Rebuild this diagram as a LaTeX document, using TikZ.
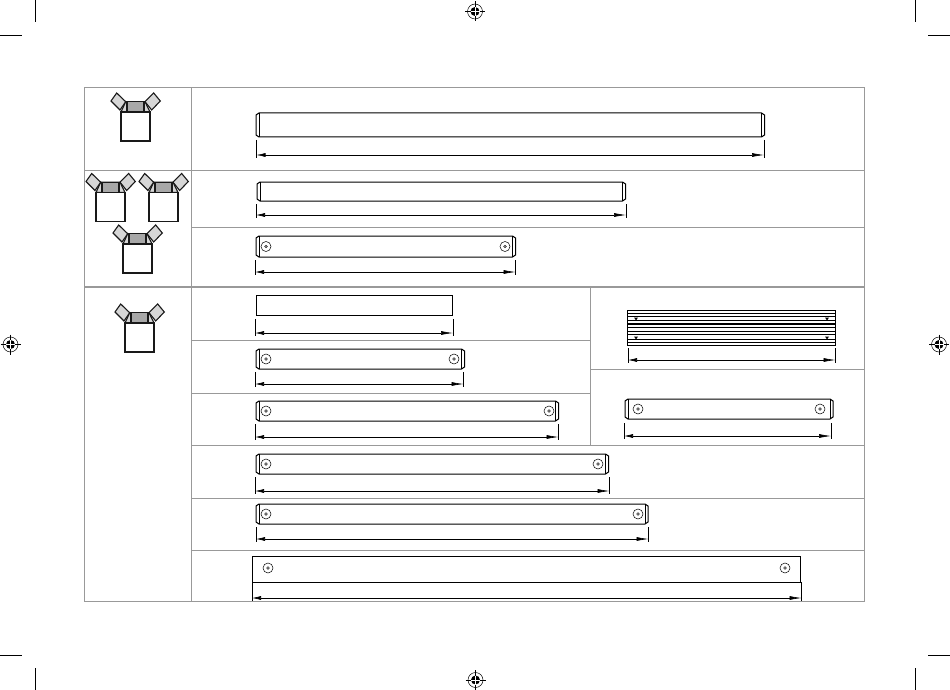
\documentclass[tikz,border=0pt]{standalone}
\usepackage{amsmath}
\usetikzlibrary{positioning, arrows.meta}

\definecolor{gridgray}{gray}{0.6}
\definecolor{flaplight}{gray}{0.84}
\definecolor{flapdark}{gray}{0.66}
\tikzset{
    grid/.style={draw=gridgray, line width=1pt},
    gridthick/.style={draw=gridgray, line width=1.8pt},
    barline/.style={draw=black, line width=1pt},
    endline/.style={draw=black, line width=0.4pt},
    extline/.style={draw=black, line width=0.7pt},
    dimline/.style={draw=black, line width=0.6pt, {Latex[length=9pt,width=4pt]}-{Latex[length=12pt,width=4pt]}},
    boxline/.style={draw=black!90, line width=1.6pt},
    flapline/.style={draw=black!90, line width=1.1pt},
    hole/.style={circle, draw=black, line width=0.5pt, minimum size=10pt, inner sep=0pt},
    holedot/.style={circle, draw=black, line width=0.3pt, fill=gray, minimum size=3pt, inner sep=0pt},
    crop/.style={draw=black, line width=0.7pt},
}

% bar with cut ends: x1, x2, top, bottom
\newcommand{\cutbar}[4]{
    \draw [barline] (#1+3, #3) -- (#2-3, #3) -- (#2, #3+2) -- (#2, #4-2) -- (#2-3, #4) -- (#1+3, #4) -- (#1, #4-2) -- (#1, #3+2) -- cycle;
    \draw [endline] (#1+3, #3) -- (#1+3, #4);
    \draw [endline] (#2-3, #3) -- (#2-3, #4);
}
% screw hole: name, x, y
\newcommand{\screw}[3]{
    \node [hole] (#1) at (#2, #3) {};
    \node [holedot] (#1c) at (#2, #3) {};
}
% dimension: name, x1, x2, y of arrow, y of start of the extension lines
\newcommand{\dimbar}[5]{
    \coordinate (#1a) at (#2, #5);
    \coordinate (#1b) at (#3, #5);
    \coordinate (#1l) at (#2, #4);
    \coordinate (#1r) at (#3, #4);
    \draw [extline] (#1a) -- ([yshift=-3pt]#1l);
    \draw [extline] (#1b) -- ([yshift=-3pt]#1r);
    \draw [dimline] (#1l) -- (#1r);
}
% open box icon: x, y of the top left corner of the box
\newcommand{\boxicon}[2]{
    \begin{scope}[shift={(#1, #2)}]
        \draw [flapline, fill=flaplight] (4.7, -10.3) -- (0, 0) -- (29, 0) -- (24, -10.3) -- cycle;
        \draw [flapline, fill=flapdark] (6, -10.3) rectangle (23, 0);
        \draw [boxline, fill=white] (0, 0) rectangle (29, 29);
        \draw [flapline, fill=flaplight] (-4.3, -19) -- (4.7, -10.3) -- (-1, -2) -- (-10, -11) -- cycle;
        \draw [flapline, fill=flaplight] (32.7, -19) -- (39.3, -11) -- (30.7, -2) -- (24, -10.3) -- cycle;
    \end{scope}
}
% registration mark: x, y
\newcommand{\regmark}[2]{
    \begin{scope}[shift={(#1, #2)}]
        \draw [crop, line width=0.5pt] (0, 0) circle (7.5);
        \fill [black] (0, 0) circle (4.5);
        \draw [crop] (-10, 0) -- (10, 0);
        \draw [crop] (0, -10) -- (0, 10);
        \draw [white, line width=0.4pt] (-4.5, 0) -- (4.5, 0);
        \draw [white, line width=0.4pt] (0, -4.5) -- (0, 4.5);
    \end{scope}
}

\begin{document}
\begin{tikzpicture}[x=1pt, y=-1pt]
    \useasboundingbox (0, 0) rectangle (950, 690);

    % table
    \draw [grid] (84, 88) rectangle (864, 601);
    \draw [grid] (191, 88) -- (191, 601);
    \draw [gridthick] (84, 170.5) -- (864, 170.5);
    \draw [gridthick] (84, 287) -- (864, 287);
    \draw [grid] (191, 227) -- (864, 227);
    \draw [grid] (191, 340) -- (590, 340);
    \draw [grid] (191, 393) -- (590, 393);
    \draw [grid] (590, 369) -- (864, 369);
    \draw [grid] (590, 287) -- (590, 445);
    \draw [grid] (191, 445) -- (864, 445);
    \draw [grid] (191, 498) -- (864, 498);
    \draw [grid] (191, 550) -- (864, 550);

    % icons
    \boxicon{121}{112}
    \boxicon{96}{192.5}
    \boxicon{149}{192.5}
    \boxicon{123}{244}
    \boxicon{125}{323}

    % bars
    \cutbar{256}{764.5}{113}{137}
    \dimbar{one}{256.5}{764}{155}{140}
    \cutbar{257}{625.5}{182}{201}
    \dimbar{two}{256}{626}{215}{204}
    \cutbar{256}{515.5}{236}{257}
    \screw{twoa}{266}{246.5}
    \screw{twob}{505}{246.5}
    \dimbar{three}{255}{515.5}{272}{260}

    \draw [barline] (256, 295) rectangle (452.7, 315);
    \dimbar{four}{255}{453}{333}{319}
    \cutbar{256}{464.5}{349}{369}
    \screw{fivea}{266}{359}
    \screw{fiveb}{454}{359}
    \dimbar{five}{255}{463.5}{384}{372}
    \cutbar{256}{558.5}{401}{421}
    \screw{sixa}{266}{411}
    \screw{sixb}{549}{411}
    \dimbar{six}{255}{558.5}{437}{424}
    \cutbar{256}{608.5}{454}{474}
    \screw{sevena}{266}{464}
    \screw{sevenb}{598}{464}
    \dimbar{seven}{255}{609.5}{491}{477}
    \cutbar{256}{648}{504}{524}
    \screw{eighta}{266}{514}
    \screw{eightb}{638}{514}
    \dimbar{eight}{256}{648.5}{539}{527}

    \draw [barline] (252, 556) rectangle (800.5, 582);
    \draw [barline] (800.5, 582) -- (801.5, 582);
    \screw{ninea}{268}{568}
    \screw{nineb}{785}{568}
    \dimbar{nine}{252}{801.5}{598}{582}

    % slotted panel
    \draw [barline] (627, 310) rectangle (835.5, 345);
    \foreach \y/\w in {313.5/0.6, 316.7/1.2, 320/0.7, 324/1.5, 327.7/1.2, 331/0.7, 334.5/1.3, 339/0.9, 342/0.7} {
        \draw [black, line width=\w pt] (627, \y) -- (835.5, \y);
    }
    \foreach \x in {636, 827} {
        \foreach \y in {317.5, 336.5} {
            \fill [black] (\x-2, \y) -- (\x+2, \y) -- (\x, \y+3) -- cycle;
        }
    }
    \dimbar{panel}{628}{835.5}{360}{348}

    \cutbar{625}{833}{399}{419}
    \screw{sidea}{638}{409}
    \screw{sideb}{820}{409}
    \dimbar{side}{624}{831}{436}{423}

    % crop marks
    \draw [crop] (35, 0) -- (35, 22);
    \draw [crop] (0, 35) -- (22, 35);
    \draw [crop] (915, 0) -- (915, 22);
    \draw [crop] (928, 35) -- (950, 35);
    \draw [crop] (35, 668) -- (35, 690);
    \draw [crop] (0, 655) -- (22, 655);
    \draw [crop] (915, 668) -- (915, 690);
    \draw [crop] (928, 655) -- (950, 655);

    \regmark{475}{11.5}
    \regmark{475.5}{680}
    \regmark{10.5}{344.5}
    \regmark{939}{344.5}
\end{tikzpicture}
\end{document}
